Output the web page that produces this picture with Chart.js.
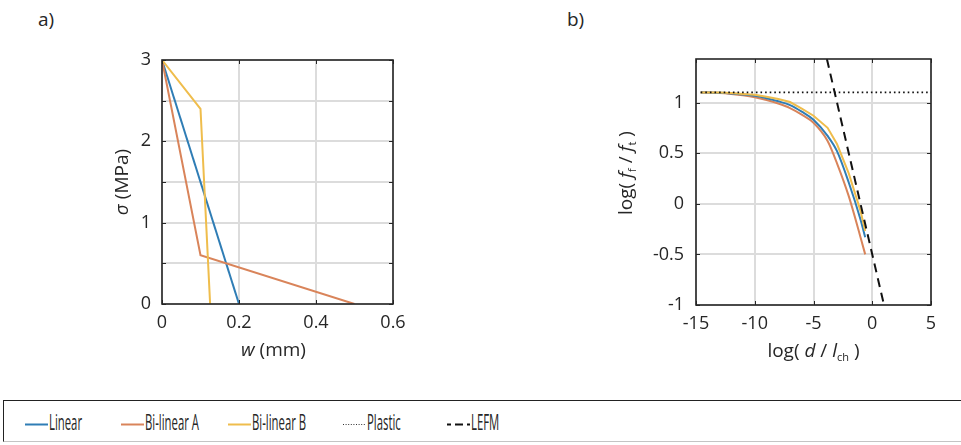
<!DOCTYPE html>
<html>
<head>
<meta charset="utf-8">
<script src="https://cdn.jsdelivr.net/npm/chart.js@4.4.1/dist/chart.umd.min.js"></script>
<style>
  body { margin: 0; width: 961px; height: 445px; background: #fff; position: relative; overflow: hidden; font-family: "Open Sans", sans-serif; color: #262626; }
  canvas { position: absolute; top: 0; }
  .panel { position: absolute; top: 6px; font-size: 19px; }
  #legend { position: absolute; left: 3px; top: 400px; width: 975px; height: 40px; border: 1.5px solid #222; border-bottom-color: #c4c4c4; }
  .lg-text { position: absolute; top: 408px; font-size: 21px; transform: scaleX(0.54); transform-origin: left center; white-space: nowrap; }
  .lg-line { position: absolute; top: 414px; }
</style>
</head>
<body>
<div class="panel" style="left:38px">a)</div>
<div class="panel" style="left:567px">b)</div>
<canvas id="softening" width="480" height="390" style="left:0"></canvas>
<canvas id="sizeEffect" width="481" height="390" style="left:480px"></canvas>
<div id="legend"></div>
<div id="legendItems"></div>
<script>
// a) softening laws: crack opening w (mm) vs stress sigma (MPa)
const wLinear = [0, 0.2];
const sLinear = [3, 0];
const wBiA = [0, 0.1, 0.5];
const sBiA = [3, 0.6, 0];
const wBiB = [0, 0.1, 0.125];
const sBiB = [3, 2.4, 0];

// b) size effect: log(d / lch) vs log(ff / ft)
const logD = [-14.6, -13, -12, -11, -10, -9, -8, -7, -6, -5, -3.8, -3, -2, -1, -0.6];
const logLinear = [1.10, 1.096, 1.09, 1.08, 1.066, 1.043, 1.012, 0.975, 0.91, 0.83, 0.67, 0.52, 0.21, -0.155, -0.33];
const logBiA = [1.10, 1.094, 1.085, 1.072, 1.053, 1.025, 0.99, 0.945, 0.88, 0.80, 0.62, 0.40, 0.075, -0.33, -0.5];
const logBiB = [1.10, 1.098, 1.093, 1.085, 1.076, 1.058, 1.035, 1.005, 0.94, 0.87, 0.75, 0.59, 0.30, -0.07, -0.27];
const plasticX = [-14.6, 5];
const plasticY = [1.1, 1.1];
const lefmX = [-3.86, 1];
const lefmY = [1.43, -1];

const xTicksA = [0, 0.6, 0.2];     // min, max, step
const yTicksA = [0, 3, 0.5];
const xTicksB = [-15, 5, 5];
const yTicksB = [-1, 1.43, 0.5];

const BLUE = '#2f7db5', ORANGE = '#d9845a', YELLOW = '#efbd4c';
const FONT = '"Open Sans", sans-serif';
const INK = '#262626';

function pts(xs, ys) { return xs.map((x, i) => ({ x: x, y: ys[i] })); }

// draws a title made of pieces (italic / subscript) centred at cx, cy
function drawParts(ctx, parts, cx, cy, rot, size) {
  ctx.save();
  ctx.translate(cx, cy);
  ctx.rotate(rot);
  ctx.fillStyle = INK;
  ctx.textBaseline = 'middle';
  const fontOf = p => (p.i ? 'italic ' : '') + (p.sub ? Math.round(size * 0.6) : size) + 'px ' + FONT;
  let total = 0;
  parts.forEach(p => { ctx.font = fontOf(p); total += ctx.measureText(p.t).width; });
  let x = -total / 2;
  parts.forEach(p => {
    ctx.font = fontOf(p);
    ctx.fillText(p.t, x, p.sub ? size * 0.32 : 0);
    x += ctx.measureText(p.t).width;
  });
  ctx.restore();
}

const frame = {
  id: 'frame',
  afterDatasetsDraw(chart, args, opts) {
    const { ctx, chartArea: a, scales } = chart;
    ctx.save();
    ctx.strokeStyle = INK;
    ctx.lineWidth = 1;
    ctx.beginPath();
    scales.x.ticks.forEach(t => {
      const px = Math.round(scales.x.getPixelForValue(t.value)) + 0.5;
      ctx.moveTo(px, a.bottom); ctx.lineTo(px, a.bottom - 4);
      ctx.moveTo(px, a.top); ctx.lineTo(px, a.top + 4);
    });
    scales.y.ticks.forEach(t => {
      const py = Math.round(scales.y.getPixelForValue(t.value)) + 0.5;
      ctx.moveTo(a.left, py); ctx.lineTo(a.left + 4, py);
      ctx.moveTo(a.right, py); ctx.lineTo(a.right - 4, py);
    });
    ctx.stroke();
    ctx.lineWidth = 1.6;
    ctx.strokeRect(a.left, a.top, a.right - a.left, a.bottom - a.top);
    ctx.restore();
    drawParts(ctx, opts.xTitle, (a.left + a.right) / 2 + opts.xShift, a.bottom + 47, 0, 19);
    drawParts(ctx, opts.yTitle, a.left - opts.yOffset, opts.yCenter, -Math.PI / 2, 19);
  }
};

function axis(range, cb, padding, fit) {
  return {
    type: 'linear', min: range[0], max: range[1],
    ticks: { stepSize: range[2], includeBounds: false, maxRotation: 0, minRotation: 0, color: INK, font: { family: FONT, size: 18 }, padding: padding, callback: cb },
    grid: { color: '#dcdcdc', lineWidth: 2, drawTicks: false },
    border: { display: false },
    afterFit: fit
  };
}

function lineSet(label, data, color, extra) {
  return Object.assign({ label: label, data: data, borderColor: color, borderWidth: 2, pointRadius: 0, showLine: true, fill: false }, extra || {});
}

const tidy = v => +Number(v).toFixed(2);

Chart.defaults.animation = false;

new Chart(document.getElementById('softening'), {
  type: 'scatter',
  data: {
    datasets: [
      lineSet('Linear', pts(wLinear, sLinear), BLUE, { order: 2 }),
      lineSet('Bi-linear A', pts(wBiA, sBiA), ORANGE, { order: 1 }),
      lineSet('Bi-linear B', pts(wBiB, sBiB), YELLOW, { order: 0 })
    ]
  },
  options: {
    responsive: false,
    layout: { padding: { left: 100, right: 87, top: 60, bottom: 56 } },
    scales: {
      x: axis(xTicksA, tidy, 8, s => { s.height = 30; }),
      y: axis(yTicksA, v => Number.isInteger(tidy(v)) ? tidy(v) : '', 11, s => { s.width = 62; })
    },
    plugins: {
      legend: { display: false }, tooltip: { enabled: false },
      frame: {
        xTitle: [{ t: 'w', i: true }, { t: ' (mm)' }],
        yTitle: [{ t: 'σ', i: true }, { t: ' (MPa)' }],
        xShift: -4, yOffset: 39, yCenter: 182
      }
    }
  },
  plugins: [frame]
});

new Chart(document.getElementById('sizeEffect'), {
  type: 'scatter',
  data: {
    datasets: [
      lineSet('Plastic', pts(plasticX, plasticY), '#111', { borderWidth: 1.6, borderDash: [1.6, 3], order: 0 }),
      lineSet('LEFM', pts(lefmX, lefmY), '#111', { borderDash: [9, 6], order: 0 }),
      lineSet('Linear', pts(logD, logLinear), BLUE, { cubicInterpolationMode: 'monotone', order: 2 }),
      lineSet('Bi-linear A', pts(logD, logBiA), ORANGE, { cubicInterpolationMode: 'monotone', order: 3 }),
      lineSet('Bi-linear B', pts(logD, logBiB), YELLOW, { order: 1 })
    ]
  },
  options: {
    responsive: false,
    layout: { padding: { left: 156, right: 30, top: 59, bottom: 55 } },
    scales: {
      x: axis(xTicksB, tidy, 8, s => { s.height = 30; }),
      y: axis(yTicksB, tidy, 12, s => { s.width = 60; })
    },
    plugins: {
      legend: { display: false }, tooltip: { enabled: false },
      frame: {
        xTitle: [{ t: 'log( ' }, { t: 'd', i: true }, { t: ' / ' }, { t: 'l', i: true }, { t: 'ch', sub: true }, { t: ' )' }],
        yTitle: [{ t: 'log( ' }, { t: 'f', i: true }, { t: 'f', sub: true }, { t: ' / ' }, { t: 'f', i: true }, { t: 't', sub: true }, { t: ' )' }],
        xShift: 0, yOffset: 69, yCenter: 173
      }
    }
  },
  plugins: [frame]
});

// shared legend below both panels
const legendLabels = ['Linear', 'Bi-linear A', 'Bi-linear B', 'Plastic', 'LEFM'];
const legendStyles = [
  { color: BLUE, dash: '' },
  { color: ORANGE, dash: '' },
  { color: YELLOW, dash: '' },
  { color: '#333', dash: '1 1.6', width: 1 },
  { color: '#111', dash: '4 4 8 4 4 40', width: 2 }
];
const legendLeft = [25, 121, 228, 343, 447];
const holder = document.getElementById('legendItems');
legendLabels.forEach((lab, i) => {
  const st = legendStyles[i];
  const x = legendLeft[i];
  const svg = '<svg class="lg-line" style="left:' + x + 'px" width="24" height="20">' +
    '<line x1="0" y1="10.5" x2="23" y2="10.5" stroke="' + st.color + '" stroke-width="' + (st.width || 2) + '"' +
    (st.dash ? ' stroke-dasharray="' + st.dash + '"' : '') + '/></svg>';
  holder.insertAdjacentHTML('beforeend', svg +
    '<span class="lg-text" style="left:' + (x + 24) + 'px">' + lab + '</span>');
});
</script>
</body>
</html>
